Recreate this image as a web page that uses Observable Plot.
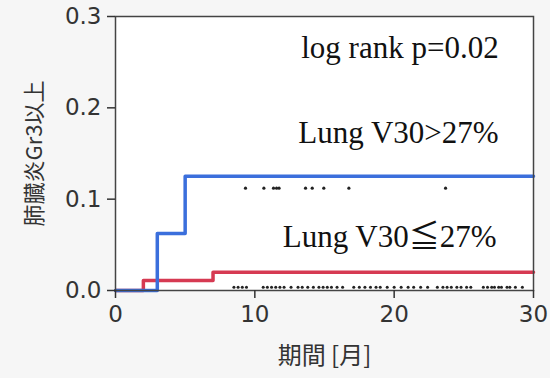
<!DOCTYPE html>
<html>
<head>
<meta charset="utf-8">
<script src="https://cdn.jsdelivr.net/npm/d3@7"></script>
<script src="https://cdn.jsdelivr.net/npm/@observablehq/plot@0.6"></script>
<style>
  html, body { margin: 0; padding: 0; background: #f6f6f6; }
  #chart svg { display: block; }
</style>
</head>
<body>
<div id="chart"></div>
<script>
// Series: cumulative incidence step points (month, value)
const highMonths = [0, 3, 5, 30];
const highValues = [0, 0.0625, 0.125, 0.125];
const lowMonths = [0, 2, 7, 30];
const lowValues = [0, 0.011, 0.02, 0.02];

// Censor marks (months)
const highCensor = [9.33, 10.65, 11.34, 11.56, 11.74, 13.64, 14.12, 14.95, 16.75, 23.69];
const highCensorLevel = 0.112;
const lowCensor = [8.5, 8.8, 9.1, 9.4, 10.6, 10.9, 11.2, 11.5, 11.8, 12.1, 12.6, 13.1, 13.4, 13.8, 14.2, 14.6,
  14.9, 15.2, 15.5, 15.9, 16.3, 17.1, 17.5, 17.9, 18.3, 18.7, 19.0, 19.5, 20.0, 20.5, 21.0, 21.4, 21.9, 22.4,
  23.1, 23.5, 23.8, 24.1, 24.5, 24.8, 25.2, 25.5, 26.4, 26.7, 27.0, 27.2, 27.5, 27.7, 28.1, 28.3, 28.7, 29.2];
const lowCensorLevel = 0.0035;

// Tick labels
const xTicks = [0, 10, 20, 30];
const yTicks = [0, 0.1, 0.2, 0.3];

// Annotations
const noteTexts = ["log rank p=0.02", "Lung V30>27%", "Lung V30≦27%"];
const noteX = [27.5, 27.5, 27.35];
const noteY = [0.265, 0.172, 0.058];

const high = highMonths.map((m, i) => ({m, v: highValues[i]}));
const low = lowMonths.map((m, i) => ({m, v: lowValues[i]}));
const hc = highCensor.map(m => ({m, v: highCensorLevel}));
const lc = lowCensor.map(m => ({m, v: lowCensorLevel}));
const notes = noteTexts.map((t, i) => ({t, x: noteX[i], y: noteY[i]}));

const chart = Plot.plot({
  width: 550,
  height: 378,
  marginLeft: 115,
  marginRight: 17,
  marginTop: 16,
  marginBottom: 88,
  style: {background: "#f6f6f6", color: "#333"},
  x: {domain: [0, 30]},
  y: {domain: [0, 0.3]},
  marks: [
    Plot.frame({fill: "white", stroke: "none"}),
    Plot.line(low, {x: "m", y: "v", curve: "step-after", stroke: "#d63a52", strokeWidth: 3.5}),
    Plot.line(high, {x: "m", y: "v", curve: "step-after", stroke: "#3b6fdc", strokeWidth: 3.5}),
    Plot.dot(hc, {x: "m", y: "v", r: 1.6, fill: "#222", stroke: "none"}),
    Plot.dot(lc, {x: "m", y: "v", r: 1.5, fill: "#222", stroke: "none"}),
    Plot.frame({stroke: "#444", strokeWidth: 1.5}),
    Plot.axisX({ticks: xTicks, tickFormat: d3.format("d"), tickSize: 8, tickPadding: 7,
      fontSize: 23, fontFamily: "DejaVu Sans", label: null, stroke: "#333", strokeWidth: 1.5}),
    Plot.axisY({ticks: yTicks, tickFormat: d3.format(".1f"), tickSize: 8, tickPadding: 6,
      fontSize: 23, fontFamily: "DejaVu Sans", label: null, stroke: "#333", strokeWidth: 1.5}),
    Plot.text(notes, {x: "x", y: "y", text: "t", textAnchor: "end", lineAnchor: "middle",
      fontSize: 31, fontFamily: "Liberation Serif, 'Noto Sans CJK JP', serif", fill: "#111"}),
    Plot.text(["肺臓炎Gr3以上"], {frameAnchor: "left", dx: -81, rotate: -90, text: d => d,
      fontSize: 22, fontFamily: "'Noto Sans CJK JP', sans-serif", fill: "#333", textAnchor: "middle", lineAnchor: "middle"}),
    Plot.text(["期間 [月]"], {frameAnchor: "bottom", dy: 66, text: d => d,
      fontSize: 24, fontFamily: "'Noto Sans CJK JP', sans-serif", fill: "#333", textAnchor: "middle", lineAnchor: "middle"})
  ]
});
document.getElementById("chart").appendChild(chart);
</script>
</body>
</html>
